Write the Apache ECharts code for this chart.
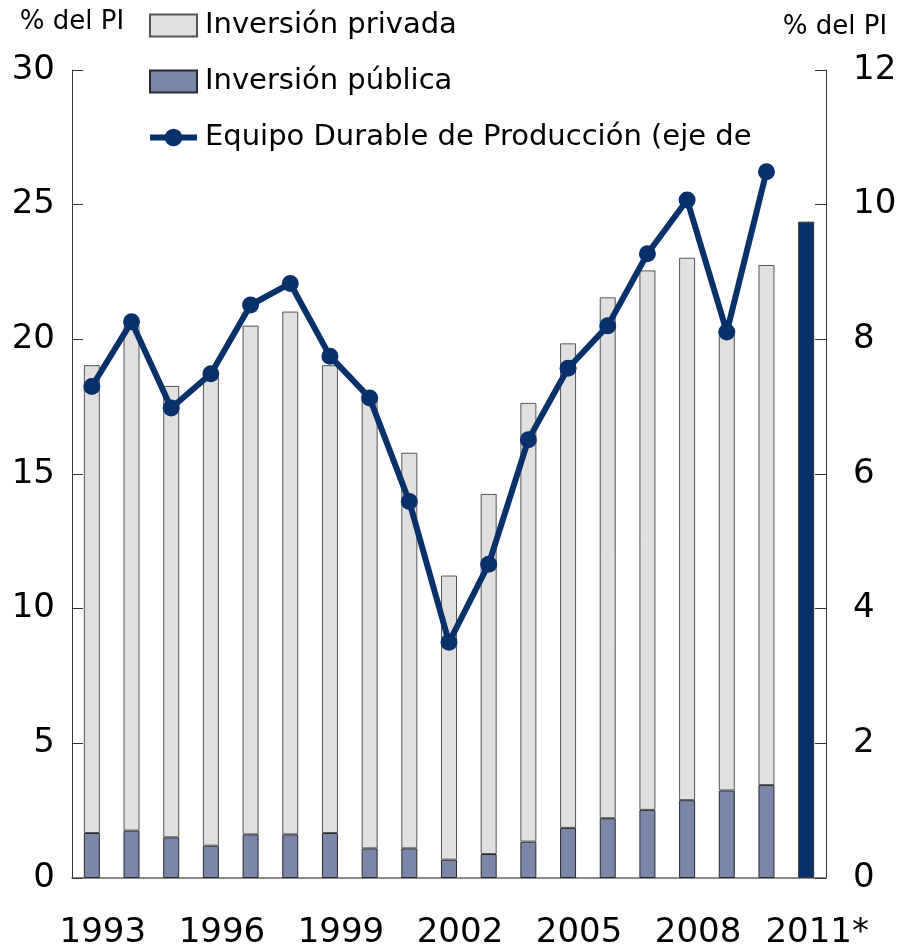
<!DOCTYPE html>
<html>
<head>
<meta charset="utf-8">
<script src="https://cdn.jsdelivr.net/npm/echarts@6/dist/echarts.min.js"></script>
<style>
  html, body { margin: 0; padding: 0; background: #fff; }
  #main { width: 905px; height: 950px; }
</style>
</head>
<body>
<div id="main"></div>
<script>
// datos
var years = ['1993', '1994', '1995', '1996', '1997', '1998', '1999', '2000', '2001', '2002',
             '2003', '2004', '2005', '2006', '2007', '2008', '2009', '2010', '2011*'];
// inversion total (privada + publica), % del PI
var totalInv = [19.04, 20.5, 18.27, 18.6, 20.51, 21.03, 19.04, 17.8, 15.79, 11.23,
                14.26, 17.64, 19.85, 21.56, 22.56, 23.03, 20.3, 22.76];
var publicInv = [1.67, 1.76, 1.51, 1.20, 1.62, 1.62, 1.67, 1.10, 1.10, 0.68,
                 0.89, 1.35, 1.86, 2.22, 2.53, 2.89, 3.25, 3.45];
var total2011 = 24.37;
// Equipo Durable de Produccion (eje derecho)
var equipo = [7.30, 8.26, 6.98, 7.49, 8.51, 8.83, 7.75, 7.13, 5.59, 3.50,
              4.66, 6.51, 7.57, 8.20, 9.27, 10.07, 8.11, 10.49, '-'];

var privateInv = totalInv.map(function (t, i) {
    return +(t - publicInv[i]).toFixed(2);
});
privateInv.push('-');
var publicData = publicInv.concat(['-']);
var last = years.map(function (y, i) { return i === years.length - 1 ? total2011 : '-'; });

var FONT = 'DejaVu Sans';
var NAVY = '#08306b';
var chart = echarts.init(document.getElementById('main'));

chart.setOption({
    animation: false,
    textStyle: { fontFamily: FONT },
    grid: { left: 72, right: 79, top: 70, bottom: 71 },
    legend: {
        orient: 'vertical',
        left: 142,
        top: 6,
        itemWidth: 47,
        itemHeight: 22,
        itemGap: 27,
        data: [
            { name: 'Inversión privada', icon: 'rect' },
            { name: 'Inversión pública', icon: 'rect' },
            { name: 'Equipo Durable de Producción (eje de' }
        ],
        lineStyle: { width: 6 },
        textStyle: { fontFamily: FONT, fontSize: 29, color: '#000', padding: [0, 0, 0, 3] }
    },
    xAxis: {
        type: 'category',
        data: years,
        boundaryGap: true,
        axisLine: { lineStyle: { color: '#666', width: 1.5 } },
        axisTick: { inside: true, length: 10, interval: 2, lineStyle: { color: '#333' } },
        axisLabel: {
            interval: 2, margin: 38, fontSize: 34, color: '#000', fontFamily: FONT,
            padding: [0, 0, 0, 22]
        }
    },
    yAxis: [{
        type: 'value',
        min: 0, max: 30, interval: 5,
        name: '% del PI',
        nameLocation: 'end',
        nameGap: 35,
        nameTextStyle: { fontSize: 26, color: '#000', fontFamily: FONT },
        splitLine: { show: false },
        axisLine: { show: true, lineStyle: { color: '#333' } },
        axisTick: { show: true, inside: true, length: 11, lineStyle: { color: '#333' } },
        axisLabel: { margin: 17, fontSize: 34, color: '#000', fontFamily: FONT }
    }, {
        type: 'value',
        min: 0, max: 12, interval: 2,
        name: '% del PI',
        nameLocation: 'end',
        nameGap: 30,
        nameTextStyle: { fontSize: 26, color: '#000', fontFamily: FONT, padding: [0, 0, 0, 18] },
        splitLine: { show: false },
        axisLine: { show: true, lineStyle: { color: '#333' } },
        axisTick: { show: true, inside: true, length: 11, lineStyle: { color: '#333' } },
        axisLabel: { margin: 27, fontSize: 34, color: '#000', fontFamily: FONT }
    }],
    series: [{
        name: 'Inversión pública',
        type: 'bar',
        stack: 'inv',
        barWidth: 16,
        data: publicData,
        itemStyle: { color: '#7a87ab', borderColor: '#2a2a2a', borderWidth: 1 }
    }, {
        name: 'Inversión privada',
        type: 'bar',
        stack: 'inv',
        barWidth: 16,
        data: privateInv,
        itemStyle: { color: '#e0e0e0', borderColor: '#555', borderWidth: 1 }
    }, {
        name: 'Total 2011',
        type: 'bar',
        stack: 'inv',
        barWidth: 16,
        data: last,
        itemStyle: { color: NAVY, borderColor: '#333', borderWidth: 1 }
    }, {
        name: 'Equipo Durable de Producción (eje de',
        type: 'line',
        yAxisIndex: 1,
        data: equipo,
        symbol: 'circle',
        symbolSize: 17,
        z: 5,
        lineStyle: { color: NAVY, width: 6 },
        itemStyle: { color: NAVY }
    }]
});
</script>
</body>
</html>
